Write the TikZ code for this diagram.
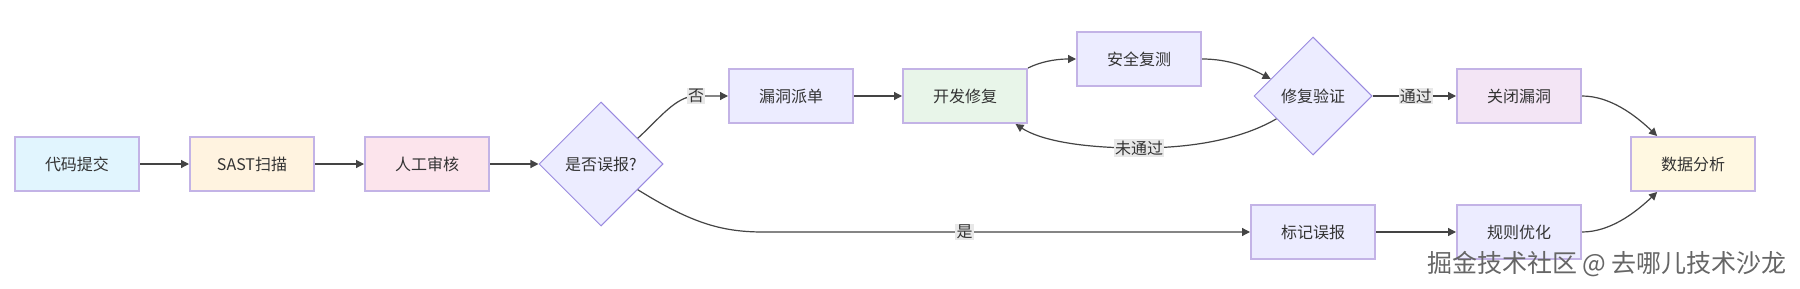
\documentclass[tikz,border=0pt]{standalone}
\usepackage{fontspec}
\setmainfont{Noto Sans CJK SC}
\usetikzlibrary{shapes.geometric,arrows.meta}
\definecolor{txt}{HTML}{333333}
\definecolor{boxline}{HTML}{C3B3E6}
\definecolor{diaLine}{HTML}{9A8AE0}
\definecolor{defFill}{HTML}{ECECFF}
\definecolor{cBlue}{HTML}{E1F5FE}
\definecolor{cOrange}{HTML}{FFF3E0}
\definecolor{cPink}{HTML}{FCE4EC}
\definecolor{cGreen}{HTML}{E8F5E9}
\definecolor{cPurple}{HTML}{F3E5F5}
\definecolor{cYellow}{HTML}{FFF8E1}
\definecolor{edgeC}{HTML}{444444}
\definecolor{lblBg}{HTML}{E8E8E8}
\tikzset{
  box/.style={draw=boxline, line width=1pt, fill=defFill, minimum width=62pt, minimum height=27pt, inner sep=0pt, font=\fontsize{8pt}{10pt}\selectfont, text=txt},
  dia/.style={shape=diamond, aspect=1, draw=diaLine, line width=0.5pt, fill=defFill, minimum width=#1, minimum height=#1, inner sep=0pt, font=\fontsize{8pt}{10pt}\selectfont, text=txt},
  edge/.style={draw=edgeC, line width=0.6pt, -{Triangle[length=4pt,width=4pt]}},
  lbl/.style={fill=lblBg, inner sep=0.6pt, font=\fontsize{8pt}{10pt}\selectfont, text=txt}
}
\begin{document}
\begin{tikzpicture}[x=0.5pt,y=-0.5pt]
\useasboundingbox[fill=white] (0,0) rectangle (1800,289);
\node[box, fill=cBlue] (commit) at (77,164) {代码提交};
\node[box, fill=cOrange] (sast) at (252,164) {SAST扫描};
\node[box, fill=cPink] (review) at (427,164) {人工审核};
\node[dia=62pt] (fp) at (601,164) {是否误报?};
\node[box] (ticket) at (791,96) {漏洞派单};
\node[box, fill=cGreen] (dev) at (965,96) {开发修复};
\node[box] (retest) at (1139,59) {安全复测};
\node[dia=59pt] (verify) at (1313,96) {修复验证};
\node[box, fill=cPurple] (close) at (1519,96) {关闭漏洞};
\node[box, fill=cYellow] (data) at (1693,164) {数据分析};
\node[box] (mark) at (1313,232) {标记误报};
\node[box] (rule) at (1519,232) {规则优化};

\draw[edge] (commit) -- (sast);
\draw[edge] (sast) -- (review);
\draw[edge] (review) -- (fp);
\draw[edge] (fp.35) .. controls (660,118) and (676,96) .. (696,96) node[lbl] {否} -- (ticket.west);
\draw[edge] (fp.-35) .. controls (690,222) and (720,232) .. (763,232) -- node[lbl, pos=0.414] {是} (mark.west);
\draw[edge] (ticket) -- (dev);
\draw[edge] (dev.north east) .. controls (1040,62) and (1055,59) .. (retest.west);
\draw[edge] (retest.east) .. controls (1230,59) and (1250,68) .. (verify.158);
\draw[edge] (verify.212) .. controls (1240,140) and (1190,148) .. (1139,148) node[lbl] {未通过} .. controls (1080,148) and (1040,140) .. (dev.-29);
\draw[edge] (verify.east) -- node[lbl, pos=0.52] {通过} (close.west);
\draw[edge] (close.east) .. controls (1610,96) and (1635,115) .. (data.142);
\draw[edge] (mark) -- (rule);
\draw[edge] (rule.east) .. controls (1610,232) and (1635,213) .. (data.218);

\node[text=black!60, font=\fontsize{12.5pt}{14pt}\selectfont] (wm) at (1607,264) {掘金技术社区 @ 去哪儿技术沙龙};
\end{tikzpicture}
\end{document}
